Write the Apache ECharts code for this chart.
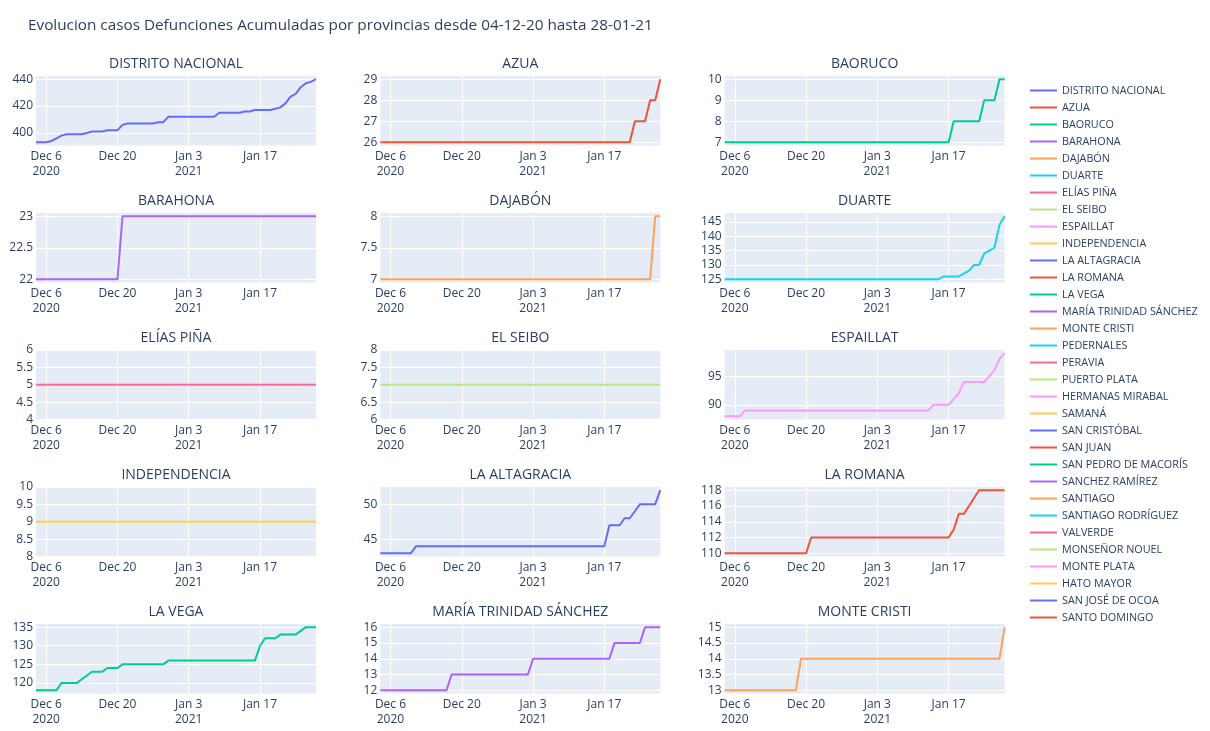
<!DOCTYPE html>
<html><head><meta charset="utf-8">
<script src="https://cdn.jsdelivr.net/npm/echarts@6/dist/echarts.min.js"></script>
<style>html,body{margin:0;padding:0;background:#fff}#c{width:1210px;height:731px}</style>
</head><body><div id="c"></div>
<script>
const chartTitle = 'Evolucion casos Defunciones Acumuladas por provincias desde 04-12-20 hasta 28-01-21';
const startDate = '2020-12-04';
const dayCount = 56;
const xTickDates = ['2020-12-06', '2020-12-20', '2021-01-03', '2021-01-17'];
const xTickLabels = ['Dec 6\n2020', 'Dec 20', 'Jan 3\n2021', 'Jan 17'];

const plottedProvinces = ['DISTRITO NACIONAL','AZUA','BAORUCO','BARAHONA','DAJABÓN','DUARTE','ELÍAS PIÑA','EL SEIBO','ESPAILLAT','INDEPENDENCIA','LA ALTAGRACIA','LA ROMANA','LA VEGA','MARÍA TRINIDAD SÁNCHEZ','MONTE CRISTI'];
const legendOnlyProvinces = ['PEDERNALES','PERAVIA','PUERTO PLATA','HERMANAS MIRABAL','SAMANÁ','SAN CRISTÓBAL','SAN JUAN','SAN PEDRO DE MACORÍS','SANCHEZ RAMÍREZ','SANTIAGO','SANTIAGO RODRÍGUEZ','VALVERDE','MONSEÑOR NOUEL','MONTE PLATA','HATO MAYOR','SAN JOSÉ DE OCOA','SANTO DOMINGO'];
const palette = ['#636efa','#EF553B','#00cc96','#ab63fa','#FFA15A','#19d3f3','#FF6692','#B6E880','#FF97FF','#FECB52'];

const distritoNacional = [393,393,393,394,396,398,399,399,399,399,400,401,401,401,402,402,402,406,407,407,407,407,407,407,408,408,412,412,412,412,412,412,412,412,412,412,415,415,415,415,415,416,416,417,417,417,417,418,419,422,427,429,434,437,438,440];
const azua = [26,26,26,26,26,26,26,26,26,26, 26,26,26,26,26,26,26,26,26,26, 26,26,26,26,26,26,26,26,26,26, 26,26,26,26,26,26,26,26,26,26, 26,26,26,26,26,26,26,26,26,26, 27,27,27,28,28,29];
const baoruco = [7,7,7,7,7,7,7,7,7,7, 7,7,7,7,7,7,7,7,7,7, 7,7,7,7,7,7,7,7,7,7, 7,7,7,7,7,7,7,7,7,7, 7,7,7,7,7,8,8,8,8,8, 8,9,9,9,10,10];
const barahona = [22,22,22,22,22,22,22,22,22,22, 22,22,22,22,22,22,22,23,23,23, 23,23,23,23,23,23,23,23,23,23, 23,23,23,23,23,23,23,23,23,23, 23,23,23,23,23,23,23,23,23,23, 23,23,23,23,23,23];
const dajabon = [7,7,7,7,7,7,7,7,7,7, 7,7,7,7,7,7,7,7,7,7, 7,7,7,7,7,7,7,7,7,7, 7,7,7,7,7,7,7,7,7,7, 7,7,7,7,7,7,7,7,7,7, 7,7,7,7,8,8];
const duarte = [125,125,125,125,125,125,125,125,125,125, 125,125,125,125,125,125,125,125,125,125, 125,125,125,125,125,125,125,125,125,125, 125,125,125,125,125,125,125,125,125,125, 125,125,125,126,126,126,126,127,128,130, 130,134,135,136,144,147];
const eliasPina = [5,5,5,5,5,5,5,5,5,5, 5,5,5,5,5,5,5,5,5,5, 5,5,5,5,5,5,5,5,5,5, 5,5,5,5,5,5,5,5,5,5, 5,5,5,5,5,5,5,5,5,5, 5,5,5,5,5,5];
const elSeibo = [7,7,7,7,7,7,7,7,7,7, 7,7,7,7,7,7,7,7,7,7, 7,7,7,7,7,7,7,7,7,7, 7,7,7,7,7,7,7,7,7,7, 7,7,7,7,7,7,7,7,7,7, 7,7,7,7,7,7];
const espaillat = [88,88,88,88,89,89,89,89,89,89, 89,89,89,89,89,89,89,89,89,89, 89,89,89,89,89,89,89,89,89,89, 89,89,89,89,89,89,89,89,89,89, 89,90,90,90,90,91,92,94,94,94, 94,94,95,96,98,99];
const independencia = [9,9,9,9,9,9,9,9,9,9, 9,9,9,9,9,9,9,9,9,9, 9,9,9,9,9,9,9,9,9,9, 9,9,9,9,9,9,9,9,9,9, 9,9,9,9,9,9,9,9,9,9, 9,9,9,9,9,9];
const laAltagracia = [43,43,43,43,43,43,43,44,44,44, 44,44,44,44,44,44,44,44,44,44, 44,44,44,44,44,44,44,44,44,44, 44,44,44,44,44,44,44,44,44,44, 44,44,44,44,44,47,47,47,48,48, 49,50,50,50,50,52];
const laRomana = [110,110,110,110,110,110,110,110,110,110, 110,110,110,110,110,110,110,112,112,112, 112,112,112,112,112,112,112,112,112,112, 112,112,112,112,112,112,112,112,112,112, 112,112,112,112,112,113,115,115,116,117, 118,118,118,118,118,118];
const laVega = [118,118,118,118,118,120,120,120,120,121, 122,123,123,123,124,124,124,125,125,125, 125,125,125,125,125,125,126,126,126,126, 126,126,126,126,126,126,126,126,126,126, 126,126,126,126,130,132,132,132,133,133, 133,133,134,135,135,135];
const mariaTrinidadSanchez = [12,12,12,12,12,12,12,12,12,12, 12,12,12,12,13,13,13,13,13,13, 13,13,13,13,13,13,13,13,13,13, 14,14,14,14,14,14,14,14,14,14, 14,14,14,14,14,14,15,15,15,15, 15,15,16,16,16,16];
const monteCristi = [13,13,13,13,13,13,13,13,13,13, 13,13,13,13,13,14,14,14,14,14, 14,14,14,14,14,14,14,14,14,14, 14,14,14,14,14,14,14,14,14,14, 14,14,14,14,14,14,14,14,14,14, 14,14,14,14,14,15];

const seriesValues = [distritoNacional, azua, baoruco, barahona, dajabon, duarte, eliasPina, elSeibo, espaillat, independencia, laAltagracia, laRomana, laVega, mariaTrinidadSanchez, monteCristi];

// y-axis ranges and tick labels per subplot
const yMins = [390.65, 25.85, 6.85, 21.95, 6.95, 123.9, 4, 6, 87.45, 8, 42.55, 109.6, 117.15, 11.8, 12.9];
const yMaxs = [442.35, 29.15, 10.15, 23.05, 8.05, 148.1, 6, 8, 99.55, 10, 52.45, 118.4, 135.85, 16.2, 15.1];
const yTicks = [
  [400,420,440], [26,27,28,29], [7,8,9,10], [22,22.5,23], [7,7.5,8], [125,130,135,140,145],
  [4,4.5,5,5.5,6], [6,6.5,7,7.5,8], [90,95], [8,8.5,9,9.5,10], [45,50], [110,112,114,116,118],
  [120,125,130,135], [12,13,14,15,16], [13,13.5,14,14.5,15]
];

function ts(s){ const p = s.split('-').map(Number); return Date.UTC(p[0], p[1]-1, p[2]); }
const startTs = ts(startDate);
const dayTs = [];
for (let i = 0; i < dayCount; i++) dayTs.push(startTs + i*86400000);
const xTickTs = xTickDates.map(ts);
const xLabelMap = {};
xTickTs.forEach((t,i)=>{ xLabelMap[t] = xTickLabels[i]; });

const FONT = '"Open Sans", "Liberation Sans", sans-serif';
const TXT = '#2a3f5f';
const gridLeft0 = 36, colPitch = 344.3, gridW = 280, gridTop0 = 76, rowPitch = 137, gridH = 69.5;

const grids = [], xAxes = [], yAxes = [], series = [], graphics = [];
graphics.push({type:'text', x: 28, y: 26, style:{text: chartTitle, fill: TXT, font: '15.3px ' + FONT, align: 'left', verticalAlign: 'middle'}});

plottedProvinces.forEach((name, i) => {
  const r = Math.floor(i/3), c = i%3;
  const left = gridLeft0 + colPitch*c, top = gridTop0 + rowPitch*r;
  grids.push({left: left, top: top, width: gridW, height: gridH, show: true, backgroundColor: '#E5ECF6', borderWidth: 0, containLabel: false});
  xAxes.push({
    type: 'value', gridIndex: i, min: dayTs[0], max: dayTs[dayCount-1], scale: true,
    axisLine: {show: false}, axisTick: {show: false, customValues: xTickTs},
    axisLabel: {customValues: xTickTs, formatter: v => xLabelMap[v] || '', color: TXT, fontSize: 12, fontFamily: FONT, margin: 4, lineHeight: 15, hideOverlap: false},
    splitLine: {show: true, lineStyle: {color: '#ffffff', width: 1}}
  });
  yAxes.push({
    type: 'value', gridIndex: i, min: yMins[i], max: yMaxs[i], scale: true,
    axisLine: {show: false}, axisTick: {show: false, customValues: yTicks[i]},
    axisLabel: {customValues: yTicks[i], color: TXT, fontSize: 12, fontFamily: FONT, margin: 3},
    splitLine: {show: true, lineStyle: {color: '#ffffff', width: 1}}
  });
  const color = palette[i % palette.length];
  series.push({
    name: name, type: 'line', xAxisIndex: i, yAxisIndex: i,
    data: seriesValues[i].map((v, k) => [dayTs[k], v]),
    showSymbol: false, symbol: 'none', lineStyle: {color: color, width: 2}, itemStyle: {color: color},
    clip: true
  });
  graphics.push({type:'text', x: left + gridW/2, y: top - 12, style:{text: name, fill: TXT, font: '14px ' + FONT, align: 'center', verticalAlign: 'middle'}});
});

legendOnlyProvinces.forEach((name, j) => {
  const color = palette[(plottedProvinces.length + j) % palette.length];
  series.push({name: name, type: 'line', xAxisIndex: 0, yAxisIndex: 0, data: [], showSymbol: false, symbol: 'none', lineStyle: {color: color, width: 2}, itemStyle: {color: color}});
});

const option = {
  animation: false,
  backgroundColor: '#ffffff',
  textStyle: {fontFamily: FONT},
  legend: {
    orient: 'vertical', left: 1025, top: 80, icon: 'rect', itemWidth: 27, itemHeight: 2, itemGap: 6,
    selectedMode: false,
    textStyle: {fontSize: 10.8, color: TXT, fontFamily: FONT},
    data: plottedProvinces.concat(legendOnlyProvinces)
  },
  grid: grids, xAxis: xAxes, yAxis: yAxes, series: series, graphic: graphics
};
const chart = echarts.init(document.getElementById('c'), null, {renderer: 'canvas'});
chart.setOption(option);
</script></body></html>
